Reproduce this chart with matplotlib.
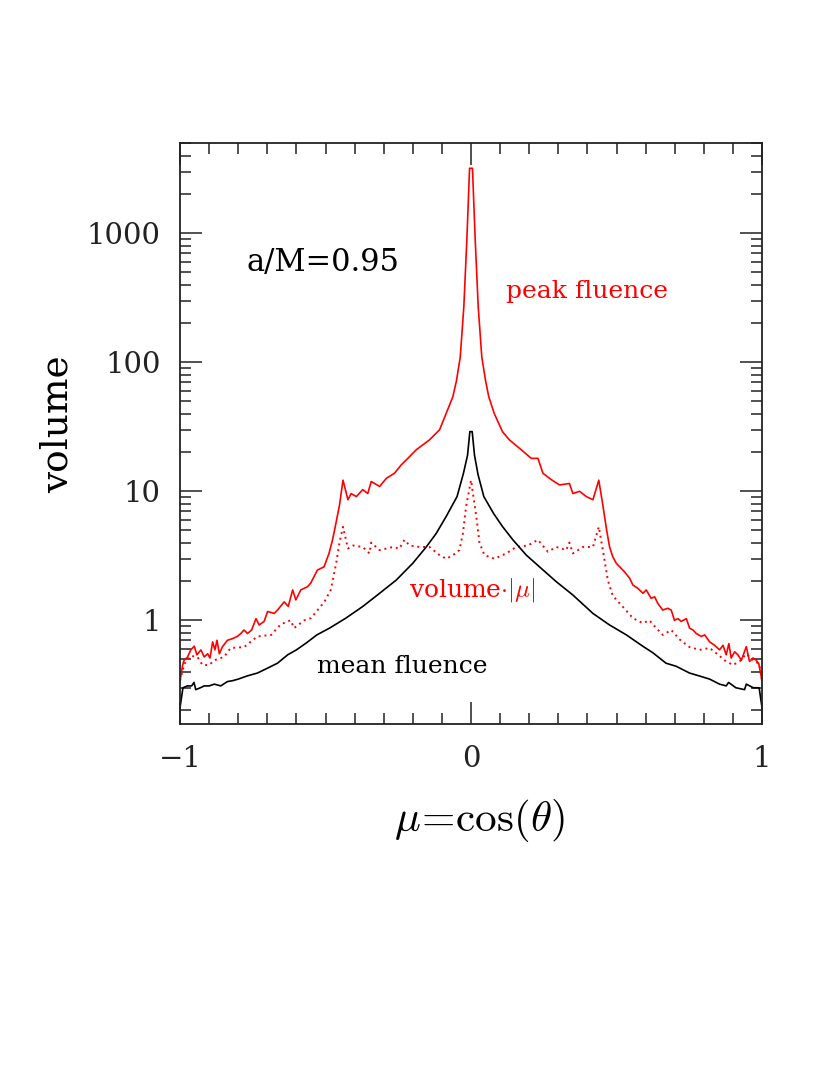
import matplotlib
matplotlib.use('Agg')
import numpy as np
from matplotlib import pyplot as plt
from matplotlib.ticker import FixedLocator, MultipleLocator, LogLocator, NullFormatter, FixedFormatter

plt.rcParams['mathtext.fontset'] = 'cm'

# peak fluence (red solid)
mu_peak = [-1.0, -0.991, -0.986, -0.974, -0.963, -0.951, -0.942, -0.928, -0.917, -0.905,
           -0.897, -0.888, -0.88, -0.873, -0.865, -0.854, -0.837, -0.82, -0.803, -0.791,
           -0.78, -0.768, -0.754, -0.739, -0.728, -0.711, -0.699, -0.676, -0.665, -0.642,
           -0.628, -0.613, -0.602, -0.585, -0.562, -0.551, -0.528, -0.505, -0.488, -0.476,
           -0.469, -0.452, -0.44, -0.423, -0.412,
           -0.394, -0.372, -0.355, -0.343, -0.314, -0.291, -0.263, -0.24, -0.217, -0.188,
           -0.143, -0.108, -0.08, -0.0625, -0.05, -0.037, -0.0247, -0.0144, -0.005,
           0.005, 0.0144, 0.0247, 0.037, 0.05, 0.061, 0.08, 0.108, 0.132, 0.167,
           0.207, 0.23, 0.247, 0.276, 0.304, 0.338, 0.35, 0.373, 0.396, 0.419,
           0.439, 0.453, 0.466,
           0.476, 0.487, 0.499, 0.516, 0.527, 0.545, 0.556, 0.573, 0.591, 0.602,
           0.619, 0.631, 0.642, 0.659, 0.676, 0.688, 0.699, 0.711, 0.722, 0.74,
           0.751, 0.763, 0.774, 0.791, 0.803, 0.82, 0.837, 0.854, 0.866, 0.877,
           0.886, 0.894, 0.906, 0.917, 0.929, 0.946, 0.957, 0.969, 0.98, 0.989, 1.0]
peak = [0.34, 0.45, 0.49, 0.52, 0.59, 0.63, 0.54, 0.59, 0.52, 0.55,
        0.51, 0.68, 0.59, 0.70, 0.55, 0.625, 0.70, 0.72, 0.75, 0.79,
        0.84, 0.79, 0.84, 1.03, 0.92, 0.98, 1.17, 1.13, 1.2, 1.39,
        1.28, 1.72, 1.44, 1.72, 1.82, 1.94, 2.45, 2.6, 3.3, 4.2,
        5.0, 7.8, 12.2, 8.6, 9.6,
        9.1, 10.3, 9.6, 11.9, 10.9, 12.6, 13.8, 16, 18, 21,
        25, 30, 43, 54, 72, 110, 270, 887, 3190,
        3190, 887, 270, 110, 72, 54, 40, 29, 25, 21.5,
        18, 18, 13.8, 12.3, 11.2, 11.5, 9.6, 10, 9.1, 8.6,
        12.2, 7.8, 5.0,
        3.72, 3.11, 2.77, 2.53, 2.38, 2.12, 1.88, 1.77, 1.62, 1.72,
        1.48, 1.52, 1.35, 1.2, 1.24, 1.2, 1.0, 1.03, 0.98, 1.03,
        0.87, 0.84, 0.79, 0.75, 0.77, 0.68, 0.64, 0.59, 0.64, 0.54,
        0.66, 0.51, 0.57, 0.54, 0.49, 0.625, 0.48, 0.51, 0.49, 0.46, 0.34]

# volume * |mu| (red dotted)
mu_vmu = [-1.0, -0.985, -0.963, -0.94, -0.923, -0.9, -0.882, -0.849, -0.826, -0.78,
          -0.734, -0.687, -0.654, -0.62, -0.608, -0.573, -0.55, -0.504, -0.482, -0.463,
          -0.452, -0.44, -0.423, -0.406, -0.372, -0.349, -0.343, -0.314, -0.291, -0.269,
          -0.246, -0.229, -0.211, -0.177, -0.143, -0.108, -0.085, -0.062, -0.04, -0.028,
          -0.017, 0.0, 0.018, 0.029, 0.046, 0.081, 0.121, 0.155, 0.195, 0.23,
          0.264, 0.293, 0.327, 0.338, 0.35, 0.384, 0.419, 0.439, 0.453, 0.47,
          0.487, 0.522, 0.556, 0.59, 0.613, 0.625, 0.659, 0.688, 0.717, 0.751,
          0.785, 0.82, 0.854, 0.871, 0.9, 0.923, 0.946, 0.969, 0.99, 1.0]
vmu = [0.34, 0.46, 0.53, 0.52, 0.45, 0.45, 0.49, 0.52, 0.61, 0.62,
       0.75, 0.77, 0.93, 1.0, 0.87, 1.0, 1.04, 1.39, 1.72, 2.8,
       4.0, 5.3, 3.6, 3.8, 3.7, 3.3, 4.0, 3.5, 3.6, 3.7,
       3.6, 4.2, 3.8, 3.7, 3.7, 3.2, 3.0, 3.2, 3.5, 4.7,
       7.6, 12.2, 6.4, 4.0, 3.2, 3.0, 3.3, 3.7, 3.8, 4.2,
       3.4, 3.7, 3.5, 4.0, 3.3, 3.7, 3.7, 5.3, 3.5, 2.05,
       1.55, 1.27, 1.04, 0.95, 1.0, 0.93, 0.77, 0.84, 0.71, 0.62,
       0.59, 0.61, 0.53, 0.49, 0.45, 0.48, 0.55, 0.49, 0.46, 0.34]

# mean fluence (black)
mu_mean = [-1.0, -0.99, -0.975, -0.96, -0.952, -0.946, -0.93, -0.917, -0.9, -0.882,
           -0.86, -0.837, -0.82, -0.8, -0.77, -0.734, -0.7, -0.665, -0.63, -0.6,
           -0.565, -0.53, -0.486, -0.43, -0.372, -0.314, -0.257, -0.2, -0.154, -0.12,
           -0.085, -0.048, -0.026, -0.012, -0.004, 0.004, 0.012, 0.024, 0.044, 0.078,
           0.109, 0.144, 0.19, 0.235, 0.292, 0.35, 0.419, 0.476, 0.534, 0.59,
           0.625, 0.67, 0.705, 0.751, 0.785, 0.82, 0.854, 0.877, 0.885, 0.91,
           0.94, 0.946, 0.97, 0.99, 1.0]
mean = [0.21, 0.30, 0.31, 0.31, 0.33, 0.29, 0.30, 0.31, 0.31, 0.32,
        0.31, 0.335, 0.34, 0.35, 0.37, 0.39, 0.425, 0.465, 0.54, 0.59,
        0.67, 0.77, 0.87, 1.04, 1.28, 1.62, 2.05, 2.77, 3.7, 4.7,
        6.4, 9.1, 13.8, 19, 29, 29, 19, 13.5, 9.1, 6.7,
        5.3, 4.2, 3.2, 2.6, 2.0, 1.57, 1.13, 0.92, 0.77, 0.63,
        0.56, 0.465, 0.44, 0.39, 0.37, 0.35, 0.32, 0.31, 0.33, 0.30,
        0.29, 0.32, 0.30, 0.30, 0.21]

xtick_vals = [-1, 0, 1]
xtick_text = ['\u22121', '0', '1']
ytick_vals = [1, 10, 100, 1000]
ytick_text = ['1', '10', '100', '1000']

fig = plt.figure(figsize=(8.3, 10.75), dpi=100)
ax = fig.add_axes([0.2169, 0.3265, 0.7012, 0.5405])

ax.plot(mu_peak, peak, color='red', lw=1.2)
ax.plot(mu_vmu, vmu, color='red', lw=1.4, linestyle=(0, (1, 2)))
ax.plot(mu_mean, mean, color='black', lw=1.2)

ax.set_yscale('log')
ax.set_xlim(-1, 1)
ax.set_ylim(10 ** -0.804, 10 ** 3.70)

ax.xaxis.set_major_locator(FixedLocator(xtick_vals))
ax.xaxis.set_major_formatter(FixedFormatter(xtick_text))
ax.xaxis.set_minor_locator(MultipleLocator(0.1))
ax.yaxis.set_major_locator(FixedLocator(ytick_vals))
ax.yaxis.set_major_formatter(FixedFormatter(ytick_text))
ax.yaxis.set_minor_locator(LogLocator(base=10, subs=np.arange(2, 10), numticks=20))
ax.yaxis.set_minor_formatter(NullFormatter())

ax.tick_params(which='both', direction='in', top=True, right=True, width=1.1, colors='#222222')
ax.tick_params(which='major', length=16, labelsize=21)
ax.tick_params(axis='x', which='major', pad=15)
ax.tick_params(axis='y', which='major', pad=14)
ax.tick_params(which='minor', length=8)
for lab in ax.get_xticklabels() + ax.get_yticklabels():
    lab.set_family('DejaVu Serif')
for s in ax.spines.values():
    s.set_linewidth(1.3)
    s.set_color('#222222')

ax.set_xlabel(r'$\mu\!=\!\cos(\theta)$', fontsize=31)
ax.xaxis.set_label_coords(0.515, -0.125)
ax.set_ylabel('volume', fontsize=27, family='DejaVu Serif')
ax.yaxis.set_label_coords(-0.18, 0.516)

ax.text(-0.509, 10 ** 2.77, 'a/M=0.95', fontsize=22, family='DejaVu Serif', ha='center', va='center')
ax.text(0.4, 10 ** 2.545, 'peak fluence', fontsize=18, family='DejaVu Serif', color='red',
        ha='center', va='center')
ax.text(0.005, 10 ** 0.235, r'volume$\cdot|\mu|$', fontsize=18, family='DejaVu Serif', color='red',
        ha='center', va='center')
ax.text(-0.235, 10 ** -0.36, 'mean fluence', fontsize=18, family='DejaVu Serif', color='black',
        ha='center', va='center')

fig.savefig('out.png', dpi=100)
